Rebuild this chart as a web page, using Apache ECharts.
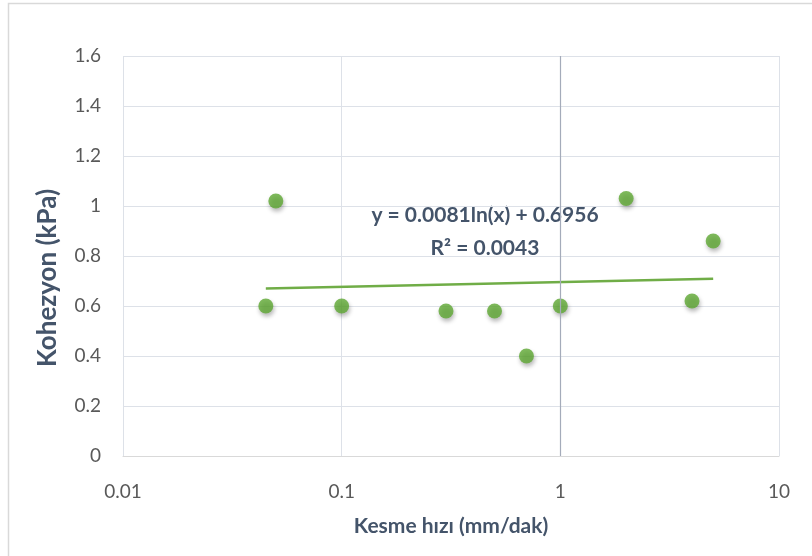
<!DOCTYPE html>
<html><head><meta charset="utf-8">
<script src="https://cdn.jsdelivr.net/npm/echarts@6/dist/echarts.min.js"></script>
<style>html,body{margin:0;padding:0;background:#fff}#c{width:812px;height:556px}</style>
</head><body><div id="c"></div>
<script>
const xValues = [0.045, 0.05, 0.1, 0.3, 0.5, 0.7, 1, 2, 4, 5];
const yValues = [0.60, 1.02, 0.60, 0.58, 0.58, 0.40, 0.60, 1.03, 0.62, 0.86];
const trendCoef = [0.0081, 0.6956]; // y = a ln(x) + b
const equationLines = ['y = 0.0081ln(x) + 0.6956', 'R² = 0.0043'];
const xTitle = 'Kesme hızı (mm/dak)';
const yTitle = 'Kohezyon (kPa)';

const pts = xValues.map((x, i) => [x, yValues[i]]);
const xmin = Math.min(...xValues), xmax = Math.max(...xValues);
const trend = [xmin, xmax].map(x => [x, trendCoef[0] * Math.log(x) + trendCoef[1]]);

const chart = echarts.init(document.getElementById('c'));
const font = 'Lato, "Open Sans", sans-serif';
chart.setOption({
  animation: false,
  grid: {left: 123, right: 33, top: 56, bottom: 100},
  xAxis: {
    type: 'log', logBase: 10, min: 0.01, max: 10,
    axisLine: {show: true, lineStyle: {color: '#d9d9d9', width: 1}},
    axisTick: {show: false},
    splitLine: {show: true, lineStyle: {color: '#dde1e8', width: 1}},
    axisLabel: {color: '#595959', fontSize: 19, fontFamily: font, margin: 26},
    name: xTitle, nameLocation: 'middle', nameGap: 60,
    nameTextStyle: {color: '#44546a', fontSize: 21, fontWeight: 'bold', fontFamily: font}
  },
  yAxis: {
    type: 'value', min: 0, max: 1.6, interval: 0.2,
    axisLine: {show: false}, axisTick: {show: false},
    splitLine: {lineStyle: {color: '#dde1e8', width: 1}},
    axisLabel: {color: '#595959', fontSize: 19, fontFamily: font, margin: 22,
      formatter: v => String(Math.round(v * 10) / 10)}
  },
  series: [
    {type: 'line', data: trend, symbol: 'none', silent: true,
     lineStyle: {color: '#70ad47', width: 2.5}, z: 2,
     markLine: {silent: true, symbol: 'none', label: {show: false},
       lineStyle: {color: '#a4abba', width: 1.2, type: 'solid'},
       data: [{xAxis: 1}]}},
    {type: 'scatter', data: pts, symbol: 'circle', symbolSize: 15, z: 3,
     itemStyle: {color: '#5ea832', shadowBlur: 4, shadowColor: 'rgba(0,0,0,0.35)', shadowOffsetX: 1, shadowOffsetY: 3}}
  ],
  graphic: [
    {type: 'rect', shape: {x: 8.5, y: 3.5, width: 830, height: 560}, style: {fill: null, stroke: '#d9d9d9', lineWidth: 1.5}, silent: true},
    {type: 'text', x: 48, y: 278, rotation: Math.PI / 2, style: {text: yTitle, fill: '#44546a', font: 'bold 26px ' + font, textAlign: 'center', textVerticalAlign: 'middle'}},
    {type: 'text', x: 485, y: 215, style: {text: equationLines[0], fill: '#44546a', font: 'bold 21px ' + font, textAlign: 'center', textVerticalAlign: 'middle'}},
    {type: 'text', x: 485, y: 248, style: {text: equationLines[1], fill: '#44546a', font: 'bold 21px ' + font, textAlign: 'center', textVerticalAlign: 'middle'}}
  ]
});
</script></body></html>
